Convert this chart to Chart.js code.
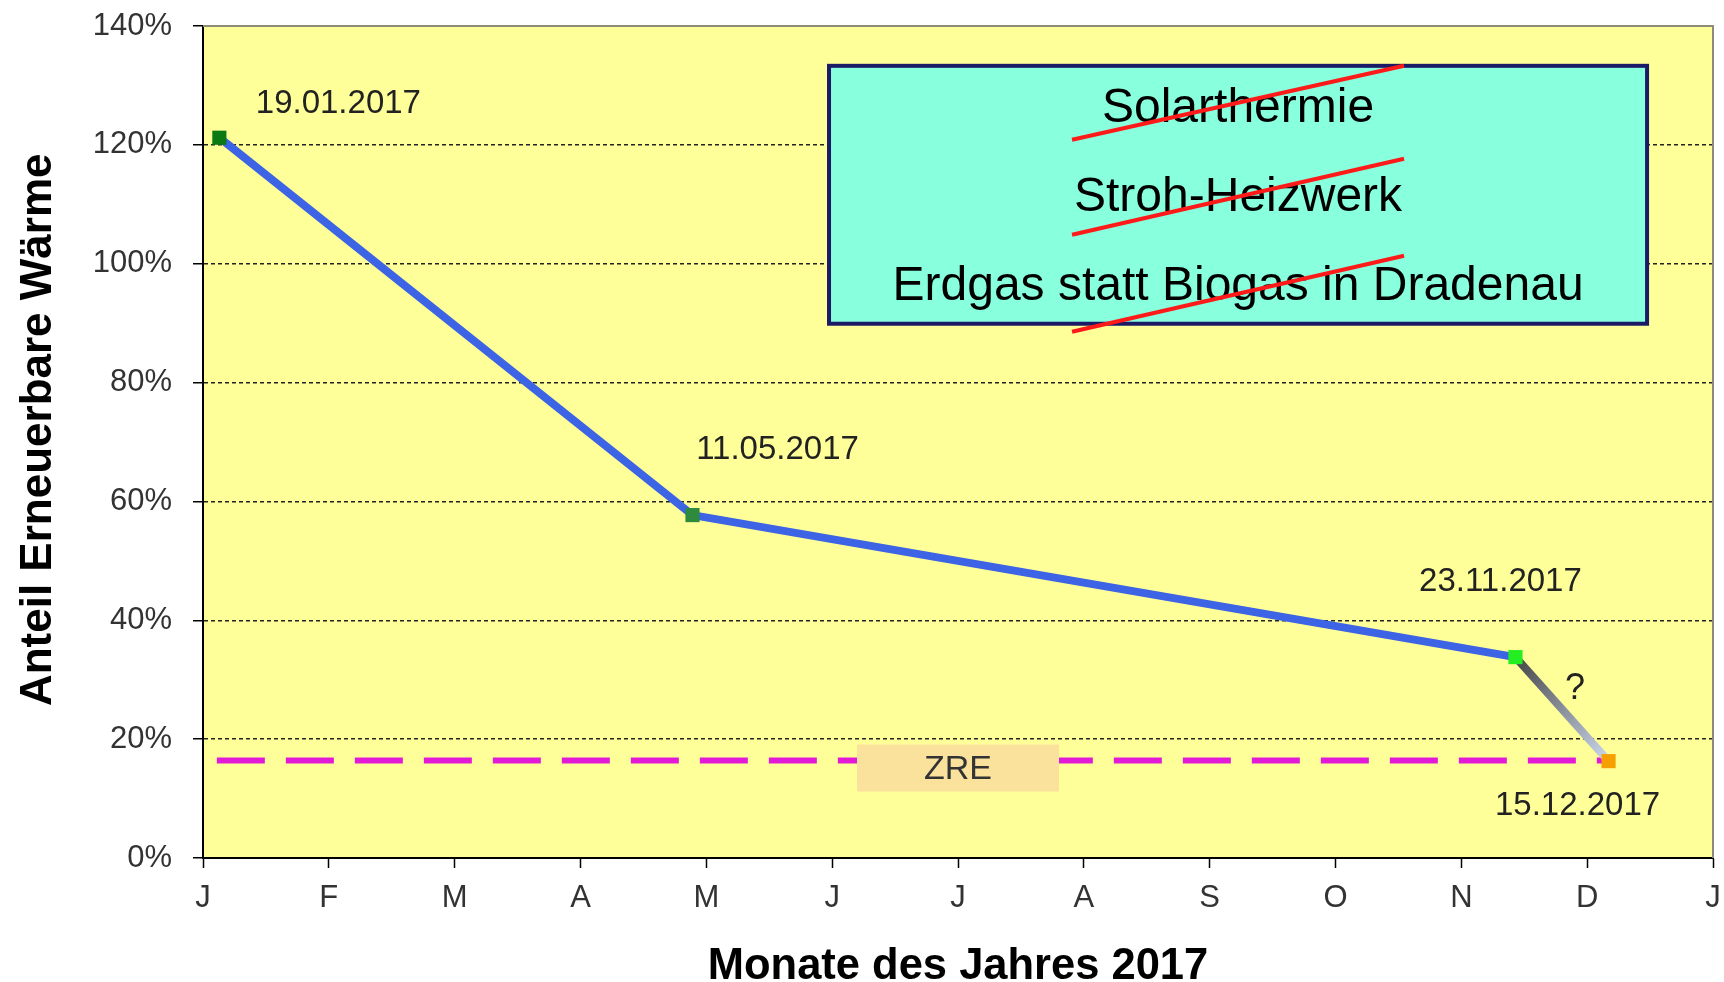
<!DOCTYPE html>
<html>
<head>
<meta charset="utf-8">
<script src="https://cdn.jsdelivr.net/npm/chart.js@4/dist/chart.umd.min.js"></script>
<style>
  html, body { margin:0; padding:0; background:#fff; }
  canvas { display:block; }
</style>
</head>
<body>
<canvas id="chart" width="1724" height="982"></canvas>
<script>
// ---- data ----
const MONTHS = ['J','F','M','A','M','J','J','A','S','O','N','D','J'];
const POINT_DATES = ['19.01.2017','11.05.2017','23.11.2017','15.12.2017'];
const POINT_X = [0.13, 3.89, 10.43, 11.17];      // position on the month axis
const SHARE = [121.2, 57.7, 33.8, 16.3];          // Anteil erneuerbare Wärme, %
const ZRE_LEVEL = 16.4;
const ZRE_X = [0.11, 11.17];
const MEASURES = ['Solarthermie','Stroh-Heizwerk','Erdgas statt Biogas in Dradenau'];
const Y_MIN = 0, Y_MAX = 140, Y_STEP = 20;

// ---- styles ----
const BLUE = '#3c64e4';
const MAGENTA = '#e21ad8';
const PLOT_BG = '#ffff99';
const POINT_COLORS = ['#0b7a12','#2e8a3c','#22ee22','#f5a000'];
const FONT = '"Liberation Sans", Arial, sans-serif';
const TEXT = '#222';

// info box in axis units, label offsets in px from their point
const INFO_BOX = { x0: 4.975, x1: 11.476, y0: 133.3, y1: 89.9 };
const LABEL_OFFSETS = [[119,-34],[85,-65],[-15,-75],[-31,45]];

function fadeSegment(ctx) {
  if (ctx.p1DataIndex !== SHARE.length - 1) return undefined;
  const g = ctx.chart.ctx.createLinearGradient(ctx.p0.x, ctx.p0.y, ctx.p1.x, ctx.p1.y);
  g.addColorStop(0, '#454545');
  g.addColorStop(1, '#ccd8ee');
  return g;
}

const decorations = {
  id: 'decorations',
  beforeDraw(chart) {
    const {ctx, chartArea: a} = chart;
    ctx.save();
    ctx.fillStyle = '#fff';
    ctx.fillRect(0, 0, chart.width, chart.height);
    ctx.fillStyle = PLOT_BG;
    ctx.fillRect(a.left, a.top, a.right - a.left, a.bottom - a.top);
    ctx.restore();
  },
  beforeDatasetsDraw(chart) {
    const {ctx, chartArea: a, scales: {x, y}} = chart;
    ctx.save();
    // top / right frame
    ctx.strokeStyle = '#8c8c78'; ctx.lineWidth = 2;
    ctx.beginPath();
    ctx.moveTo(a.left, a.top); ctx.lineTo(a.right, a.top); ctx.lineTo(a.right, a.bottom);
    ctx.stroke();
    // info box with struck-out measures
    const bx = x.getPixelForValue(INFO_BOX.x0), bx1 = x.getPixelForValue(INFO_BOX.x1);
    const by = y.getPixelForValue(INFO_BOX.y0), by1 = y.getPixelForValue(INFO_BOX.y1);
    ctx.fillStyle = '#88ffdd';
    ctx.fillRect(bx, by, bx1 - bx, by1 - by);
    ctx.strokeStyle = '#1b1a66'; ctx.lineWidth = 4;
    ctx.strokeRect(bx, by, bx1 - bx, by1 - by);
    const cx = (bx + bx1) / 2;
    ctx.fillStyle = '#000';
    ctx.font = '48px ' + FONT;
    ctx.textAlign = 'center'; ctx.textBaseline = 'alphabetic';
    MEASURES.forEach((m, i) => ctx.fillText(m, cx, by + 56 + i * 89));
    ctx.strokeStyle = '#ff1a1a'; ctx.lineWidth = 4;
    [[74,0],[169,93],[266,190]].forEach(([ya, yb]) => {
      ctx.beginPath();
      ctx.moveTo(bx + 243, by + ya); ctx.lineTo(bx + 575, by + yb);
      ctx.stroke();
    });
    ctx.restore();
  },
  afterDatasetsDraw(chart) {
    const {ctx, scales: {x, y}} = chart;
    const pts = chart.getDatasetMeta(0).data;
    ctx.save();
    ctx.fillStyle = TEXT;
    ctx.font = '33px ' + FONT;
    ctx.textAlign = 'center'; ctx.textBaseline = 'middle';
    pts.forEach((p, i) => ctx.fillText(POINT_DATES[i], p.x + LABEL_OFFSETS[i][0], p.y + LABEL_OFFSETS[i][1]));
    // question mark on the forecast segment
    const p3 = pts[2], p4 = pts[3];
    ctx.font = '36px ' + FONT;
    ctx.fillText('?', (p3.x + p4.x) / 2 + 13, (p3.y + p4.y) / 2 - 20);
    // ZRE tag on the target line
    const zx = x.getPixelForValue(6), zy = y.getPixelForValue(ZRE_LEVEL) + 8;
    ctx.fillStyle = '#fbe29c';
    ctx.fillRect(zx - 101, zy - 24, 202, 47);
    ctx.fillStyle = '#333';
    ctx.font = '34px ' + FONT;
    ctx.fillText('ZRE', zx, zy + 1);
    ctx.restore();
  }
};

new Chart(document.getElementById('chart'), {
  type: 'line',
  data: {
    datasets: [
      {
        label: 'Anteil',
        data: POINT_X.map((v, i) => ({ x: v, y: SHARE[i] })),
        borderColor: BLUE, borderWidth: 8, tension: 0,
        segment: { borderColor: fadeSegment },
        pointStyle: 'rect', pointRadius: 10, pointBorderWidth: 0,
        pointBackgroundColor: POINT_COLORS,
        order: 0
      },
      {
        label: 'ZRE',
        data: ZRE_X.map(v => ({ x: v, y: ZRE_LEVEL })),
        borderColor: MAGENTA, borderWidth: 6, borderDash: [48, 21],
        pointRadius: 0, order: 1
      }
    ]
  },
  options: {
    responsive: false, animation: false,
    layout: { padding: { top: 26, right: 11, bottom: 0, left: 0 } },
    plugins: { legend: { display: false }, tooltip: { enabled: false } },
    scales: {
      x: {
        type: 'linear', min: 0, max: 12,
        afterFit: s => { s.height = 124; s.paddingLeft = 0; s.paddingRight = 0; },
        ticks: { stepSize: 1, autoSkip: false, maxRotation: 0, padding: 12,
          color: '#333', font: { family: FONT, size: 31 },
          callback: v => MONTHS[v] },
        grid: { drawOnChartArea: false, tickLength: 10, tickColor: '#000', tickWidth: 1.5 },
        border: { color: '#000', width: 2 },
        title: { display: true, text: 'Monate des Jahres 2017', color: '#000',
          font: { family: FONT, size: 43.5, weight: 'bold', lineHeight: 0.7 }, padding: { top: 0, bottom: 0 } }
      },
      y: {
        min: Y_MIN, max: Y_MAX,
        afterFit: s => { s.width = 203; s.paddingTop = 0; s.paddingBottom = 0; },
        ticks: { stepSize: Y_STEP, padding: 21, color: '#333',
          font: { family: FONT, size: 31 }, callback: v => v + '%' },
        grid: {
          color: c => (c.tick && (c.tick.value === Y_MIN || c.tick.value === Y_MAX)) ? 'rgba(0,0,0,0)' : '#222',
          lineWidth: 1.5, tickLength: 10, tickColor: '#000', tickWidth: 1.5
        },
        border: { color: '#000', width: 2, dash: [4, 3] },
        title: { display: true, text: '  Anteil Erneuerbare Wärme', color: '#000',
          font: { family: FONT, size: 44, weight: 'bold', lineHeight: 1.2 }, padding: { top: 12, bottom: 0 } }
      }
    }
  },
  plugins: [decorations]
});
</script>
</body>
</html>
